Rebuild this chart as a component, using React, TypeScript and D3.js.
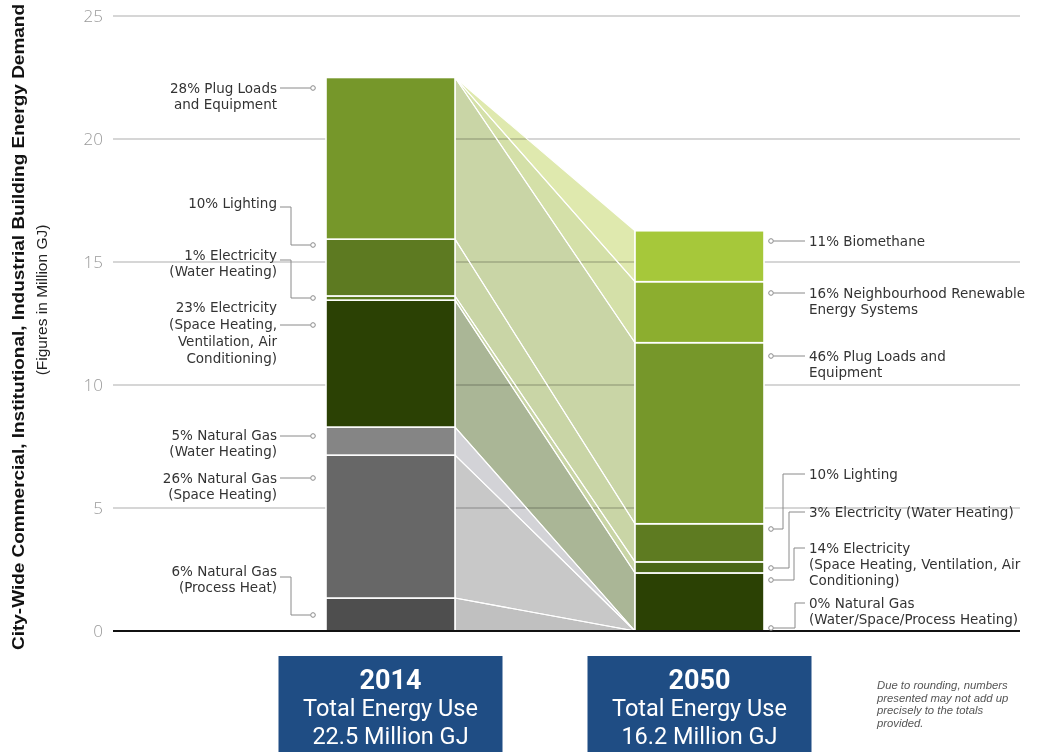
import React from "react";
import * as d3 from "d3";

// --- data ---
const years = ["2014", "2050"];

// stacked bottom -> top, million GJ
const keys2014 = ["ngProcess", "ngSpace", "ngWater", "elecSpace", "elecWater", "lighting", "plug"];
const values2014 = [1.34, 5.81, 1.14, 5.16, 0.17, 2.31, 6.57];
const colors2014 = ["#4e4e4e", "#676767", "#858585", "#2b4104", "#5a7a1e", "#5d7a21", "#76972a"];

const keys2050 = ["ngAll", "elecSpace", "elecWater", "lighting", "plug", "nres", "bio"];
const values2050 = [0, 2.36, 0.45, 1.55, 7.36, 2.48, 2.07];
const colors2050 = ["#4e4e4e", "#2b4104", "#4a6718", "#5e7b21", "#76972a", "#8cae2f", "#a6c83a"];

// flows 2014 -> 2050 (null source = new supply, starts at the top of the 2014 bar)
const flowFrom = [null, null, "plug", "lighting", "elecWater", "elecSpace", "ngWater", "ngSpace", "ngProcess"];
const flowTo = ["bio", "nres", "plug", "lighting", "elecWater", "elecSpace", "ngAll", "ngAll", "ngAll"];
const flowColors = ["#dfe9ae", "#d4e0a8", "#c9d5a6", "#c9d5a6", "#c9d5a6", "#aab696", "#d3d3d7", "#c8c8c8", "#c0c0c0"];

const yTicks = [0, 5, 10, 15, 20, 25];
const totals = ["22.5 Million GJ", "16.2 Million GJ"];

const leftLabels = [
  { lines: ["28% Plug Loads", "and Equipment"], ty: 88, ly: 88, dot: 88 },
  { lines: ["10% Lighting"], ty: 203, ly: 207, dot: 245, elbow: 291 },
  { lines: ["1% Electricity", "(Water Heating)"], ty: 255, ly: 260, dot: 298, elbow: 291 },
  { lines: ["23% Electricity", "(Space Heating,", "Ventilation, Air", "Conditioning)"], ty: 307, ly: 325, dot: 325, lh: 17.2 },
  { lines: ["5% Natural Gas", "(Water Heating)"], ty: 435, ly: 436, dot: 436 },
  { lines: ["26% Natural Gas", "(Space Heating)"], ty: 478, ly: 478, dot: 478 },
  { lines: ["6% Natural Gas", "(Process Heat)"], ty: 571, ly: 577, dot: 615, elbow: 291 },
];

const rightLabels = [
  { lines: ["11% Biomethane"], ty: 241, ly: 241, dot: 241 },
  { lines: ["16% Neighbourhood Renewable", "Energy Systems"], ty: 293, ly: 293, dot: 293 },
  { lines: ["46% Plug Loads and", "Equipment"], ty: 356, ly: 356, dot: 356 },
  { lines: ["10% Lighting"], ty: 474, ly: 474, dot: 529, elbow: 783 },
  { lines: ["3% Electricity (Water Heating)"], ty: 512, ly: 512, dot: 568, elbow: 789 },
  { lines: ["14% Electricity", "(Space Heating, Ventilation, Air", "Conditioning)"], ty: 548, ly: 548, dot: 580, elbow: 794 },
  { lines: ["0% Natural Gas", "(Water/Space/Process Heating)"], ty: 603, ly: 603, dot: 628, elbow: 795 },
];

const noteLines = ["Due to rounding, numbers", "presented may not add up", "precisely to the totals", "provided."];

// --- helpers ---
function stackOf(keys: string[], values: number[]) {
  const tops = d3.cumsum(values);
  const out: Record<string, [number, number]> = {};
  keys.forEach((k, i) => (out[k] = [tops[i] - values[i], tops[i]]));
  return out;
}

const W = 1039;
const H = 752;
const labelFont = "'DejaVu Sans', sans-serif";

export default function App() {
  const y = d3.scaleLinear().domain([0, 25]).range([631, 16]);
  const x = d3
    .scaleBand()
    .domain(years)
    .range([171.5, 918.5])
    .paddingInner(0.5825)
    .paddingOuter(0.5);
  const bw = x.bandwidth();
  const xL = x("2014") as number;
  const xR = x("2050") as number;

  const s14 = stackOf(keys2014, values2014);
  const s50 = stackOf(keys2050, values2050);
  const total14 = d3.sum(values2014);

  const flows = flowFrom.map((f, i) => {
    const a = f ? s14[f] : [total14, total14];
    const b = s50[flowTo[i]];
    const pts: [number, number][] = [
      [xL + bw, y(a[1])],
      [xR, y(b[1])],
      [xR, y(b[0])],
      [xL + bw, y(a[0])],
    ];
    return { d: "M" + pts.join("L") + "Z", color: flowColors[i] };
  });

  const gridX0 = 113;
  const gridX1 = 1020;

  return (
    <svg width={W} height={H} style={{ position: "absolute", left: 0, top: 0, background: "#fff" }}>
      {/* gridlines */}
      {yTicks.filter((t) => t > 0).map((t) => (
        <line key={t} x1={gridX0} x2={gridX1} y1={y(t)} y2={y(t)} stroke="#c9c9c9" strokeWidth={1.6} />
      ))}
      {yTicks.map((t) => (
        <text key={"t" + t} x={103} y={y(t)} dy="0.36em" textAnchor="end" fontSize={17}
          fontFamily="'Open Sans', sans-serif" fontWeight={300} fill="#9a9a9a">{t}</text>
      ))}

      {/* flows */}
      <g>
        {flows.map((f, i) => (
          <path key={i} d={f.d} fill={f.color} style={{ mixBlendMode: "multiply" }} />
        ))}
      </g>
      <g>
        {flows.map((f, i) => (
          <path key={i} d={f.d} fill="none" stroke="#fff" strokeWidth={1.1} strokeLinejoin="round" />
        ))}
      </g>

      {/* bars */}
      {keys2014.map((k, i) => (
        <rect key={k} x={xL} width={bw} y={y(s14[k][1])} height={y(s14[k][0]) - y(s14[k][1])}
          fill={colors2014[i]} stroke="#fff" strokeWidth={1.6} />
      ))}
      {keys2050.filter((k, i) => values2050[i] > 0).map((k) => (
        <rect key={k} x={xR} width={bw} y={y(s50[k][1])} height={y(s50[k][0]) - y(s50[k][1])}
          fill={colors2050[keys2050.indexOf(k)]} stroke="#fff" strokeWidth={1.6} />
      ))}

      {/* zero line */}
      <line x1={gridX0} x2={gridX1} y1={y(0)} y2={y(0)} stroke="#111" strokeWidth={2} />

      {/* left labels */}
      {leftLabels.map((l, i) => (
        <g key={"l" + i}>
          {l.lines.map((t, j) => (
            <text key={j} x={277} y={l.ty + j * (l.lh || 16)} dy="0.36em" textAnchor="end"
              fontSize={13.5} fontFamily={labelFont} fill="#333">{t}</text>
          ))}
          <path d={l.elbow ? `M280,${l.ly}H${l.elbow}V${l.dot}H310.5` : `M280,${l.ly}H310.5`}
            fill="none" stroke="#8a8a8a" strokeWidth={1} />
          <circle cx={313} cy={l.dot} r={2.3} fill="#fff" stroke="#8a8a8a" strokeWidth={1} />
        </g>
      ))}

      {/* right labels */}
      {rightLabels.map((l, i) => (
        <g key={"r" + i}>
          {l.lines.map((t, j) => (
            <text key={j} x={809} y={l.ty + j * 16} dy="0.36em" textAnchor="start"
              fontSize={13.5} fontFamily={labelFont} fill="#333">{t}</text>
          ))}
          <path d={l.elbow ? `M773.5,${l.dot}H${l.elbow}V${l.ly}H805` : `M773.5,${l.ly}H805`}
            fill="none" stroke="#8a8a8a" strokeWidth={1} />
          <circle cx={771} cy={l.dot} r={2.3} fill="#fff" stroke="#8a8a8a" strokeWidth={1} />
        </g>
      ))}

      {/* axis title */}
      <text transform="translate(24,327) rotate(-90)" textAnchor="middle" fontSize={16} fontWeight="bold"
        fontFamily="'Liberation Sans', Arial, sans-serif" fill="#111" textLength={646} lengthAdjust="spacingAndGlyphs">
        City-Wide Commercial, Institutional, Industrial Building Energy Demand
      </text>
      <text transform="translate(47,300) rotate(-90)" textAnchor="middle" fontSize={15.5}
        fontFamily="'Liberation Sans', Arial, sans-serif" fill="#222">
        (Figures in Million GJ)
      </text>

      {/* total boxes */}
      {years.map((yr, i) => {
        const cx = (x(yr) as number) + bw / 2;
        return (
          <g key={yr}>
            <rect x={cx - 112} y={656} width={224} height={100} fill="#1f4d84" />
            <text x={cx} y={689} textAnchor="middle" fontSize={27} fontWeight="bold"
              fontFamily="Roboto, sans-serif" fill="#fff">{yr}</text>
            <text x={cx} y={716} textAnchor="middle" fontSize={23.5}
              fontFamily="Roboto, sans-serif" fill="#fff">Total Energy Use</text>
            <text x={cx} y={744} textAnchor="middle" fontSize={23.5}
              fontFamily="Roboto, sans-serif" fill="#fff">{totals[i]}</text>
          </g>
        );
      })}

      {/* note */}
      {noteLines.map((t, j) => (
        <text key={j} x={877} y={689 + j * 12.7} fontSize={11.3} fontStyle="italic"
          fontFamily="'Liberation Sans', Arial, sans-serif" fill="#555">{t}</text>
      ))}
    </svg>
  );
}
